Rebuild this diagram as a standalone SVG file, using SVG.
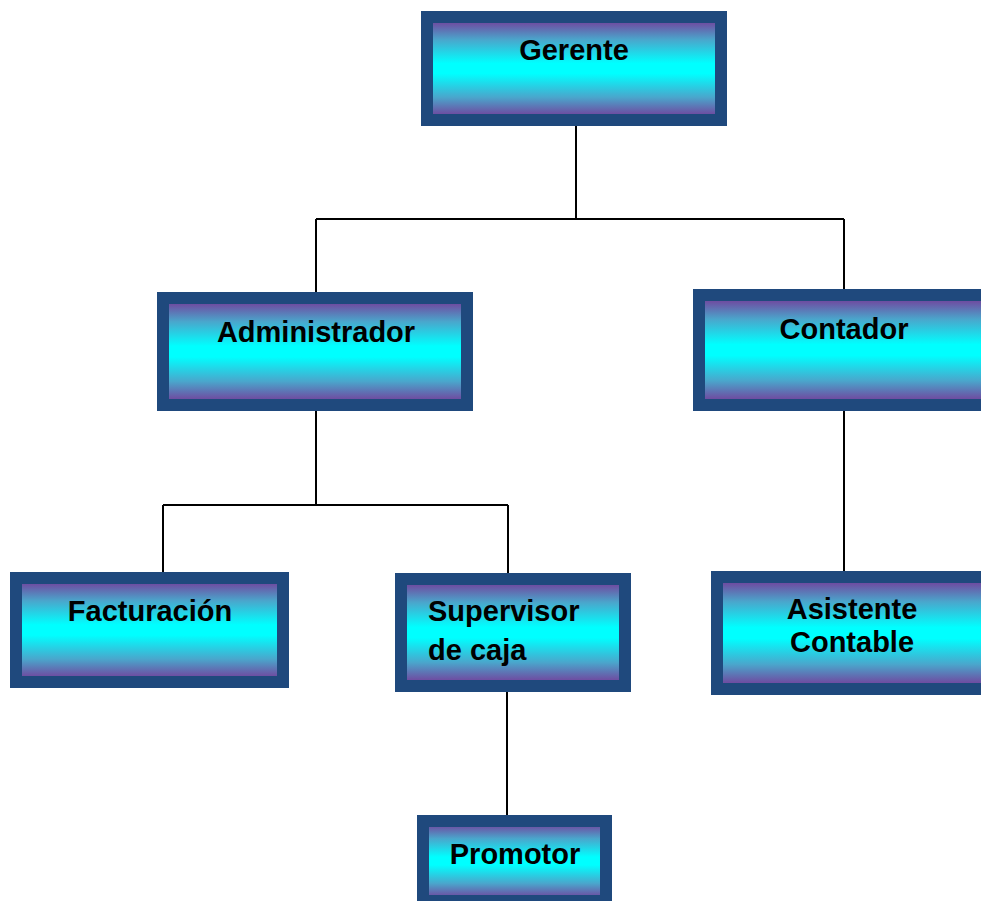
<svg xmlns="http://www.w3.org/2000/svg" width="981" height="901" viewBox="0 0 981 901">
<defs>
<linearGradient id="g" x1="0" y1="0" x2="0" y2="1">
<stop offset="0.05" stop-color="#6f4aa0"/>
<stop offset="0.22" stop-color="#4aa6cc"/>
<stop offset="0.45" stop-color="#00ffff"/>
<stop offset="0.55" stop-color="#00ffff"/>
<stop offset="0.78" stop-color="#4aa6cc"/>
<stop offset="0.95" stop-color="#6f4aa0"/>
</linearGradient>
</defs>
<style>
.box{fill:url(#g);stroke:#1f497d;stroke-width:12}
.t{font-family:"Liberation Sans",Arial,sans-serif;font-weight:bold;font-size:29px;fill:#000}
.c{text-anchor:middle}
.ln{fill:none;stroke:#000;stroke-width:2}
</style>
<rect width="981" height="901" fill="#fff"/>
<g id="connectors">
<path class="ln" d="M576 126V219M316 219H844M316 219V292M844 219V289"/>
<path class="ln" d="M316 411V505M163 505H508M163 505V572M508 505V573"/>
<path class="ln" d="M844 411V571"/>
<path class="ln" d="M507 692V815"/>
</g>
<g id="gerente"><rect class="box" x="427" y="17" width="294" height="103"/><text class="t c" x="574" y="60">Gerente</text></g>
<g id="administrador"><rect class="box" x="163" y="298" width="304" height="107"/><text class="t c" x="316" y="342">Administrador</text></g>
<g id="contador"><rect class="box" x="699" y="295" width="300" height="110"/><text class="t c" x="844" y="339">Contador</text></g>
<g id="facturacion"><rect class="box" x="16" y="578" width="267" height="104"/><text class="t c" x="150" y="621">Facturación</text></g>
<g id="supervisor"><rect class="box" x="401" y="579" width="224" height="107"/><text class="t" x="428" y="621">Supervisor</text><text class="t" x="428" y="660">de caja</text></g>
<g id="asistente"><rect class="box" x="717" y="577" width="300" height="112"/><text class="t c" x="852" y="619">Asistente</text><text class="t c" x="852" y="652">Contable</text></g>
<g id="promotor"><rect class="box" x="423" y="821" width="183" height="80"/><text class="t c" x="515" y="864">Promotor</text></g>
</svg>
